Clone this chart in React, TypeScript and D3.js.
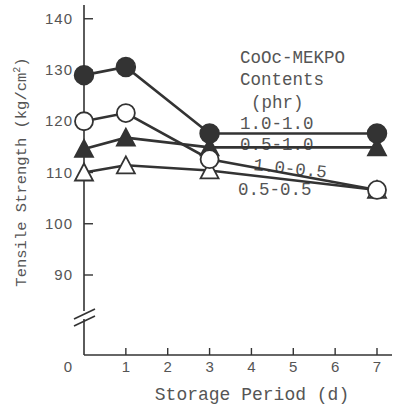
import React from "react";
import * as d3 from "d3";

const days = [0, 1, 3, 7];
const s10_10 = [129, 130.6, 117.6, 117.6]; // filled circle
const s10_05 = [120, 121.6, 112.6, 106.6]; // open circle
const s05_10 = [114.6, 116.8, 114.9, 114.9]; // filled triangle
const s05_05 = [110, 111.4, 110.4, 106.6]; // open triangle
const xTicks = [1, 2, 3, 4, 5, 6, 7];
const yTicks = [90, 100, 110, 120, 130, 140];
const legendTitle = ["CoOc-MEKPO", "Contents", "(phr)"];

const ink = "#333";
const txt = "#555";
const mono = "'Liberation Mono', 'DejaVu Sans Mono', monospace";
const sans = "'Liberation Sans', Arial, sans-serif";

export default function App() {
  const x = d3.scaleLinear().domain([0, 7]).range([84, 377]);
  const y = d3.scaleLinear().domain([90, 130]).range([275, 70]);
  const line = d3
    .line<number>()
    .x((_, i) => x(days[i]))
    .y((v) => y(v));
  const tri = (cx: number, cy: number) =>
    `M${cx},${cy - 9}L${cx + 9},${cy + 8}L${cx - 9},${cy + 8}Z`;

  const axisX = 84;
  const axisY = 355;
  const breakY = 316;

  return (
    <svg
      width={396}
      height={407}
      style={{ position: "absolute", left: 0, top: 0, background: "#fff" }}
    >
      {/* y axis with break */}
      <line x1={axisX} x2={axisX} y1={5} y2={breakY - 5} stroke={ink} strokeWidth={1.6} />
      <line x1={axisX} x2={axisX} y1={breakY + 3} y2={axisY} stroke={ink} strokeWidth={1.6} />
      <line x1={74} x2={95} y1={breakY + 3} y2={breakY - 7} stroke={ink} strokeWidth={1.6} />
      <line x1={74} x2={95} y1={breakY + 10} y2={breakY} stroke={ink} strokeWidth={1.6} />
      {/* x axis */}
      <line x1={axisX} x2={392} y1={axisY} y2={axisY} stroke={ink} strokeWidth={1.6} />
      {xTicks.map((t) => (
        <g key={"xt" + t}>
          <line x1={x(t)} x2={x(t)} y1={axisY} y2={axisY - 7} stroke={ink} strokeWidth={1.4} />
          <text x={x(t)} y={372} textAnchor="middle" fontFamily={sans} fontSize={15} fill={txt}>
            {t}
          </text>
        </g>
      ))}
      <text x={68} y={372} textAnchor="middle" fontFamily={sans} fontSize={15} fill={txt}>
        0
      </text>
      {yTicks.map((t) => (
        <g key={"yt" + t}>
          <line x1={axisX} x2={axisX + 9} y1={y(t)} y2={y(t)} stroke={ink} strokeWidth={1.4} />
          <text
            x={73}
            y={y(t) + 5}
            textAnchor="end"
            fontFamily={sans}
            fontSize={15}
            letterSpacing={1}
            fill={txt}
          >
            {t}
          </text>
        </g>
      ))}
      {/* axis titles */}
      <text x={252} y={400} textAnchor="middle" fontFamily={mono} fontSize={18} fill={txt}>
        Storage Period (d)
      </text>
      <text
        transform="translate(26,172) rotate(-90)"
        textAnchor="middle"
        fontFamily={mono}
        fontSize={15.5}
        fill={txt}
      >
        Tensile Strength (kg/cm
        <tspan fontSize={10} dy={-6}>2</tspan>
        <tspan dy={6}>)</tspan>
      </text>
      {/* legend text */}
      <text x={240} y={63} fontFamily={mono} fontSize={17.5} fill={txt}>
        {legendTitle[0]}
      </text>
      <text x={240} y={85} fontFamily={mono} fontSize={17.5} fill={txt}>
        {legendTitle[1]}
      </text>
      <text x={251} y={108} fontFamily={mono} fontSize={17.5} fill={txt}>
        {legendTitle[2]}
      </text>
      <text x={240} y={129} fontFamily={mono} fontSize={17.5} fill={txt}>
        1.0-1.0
      </text>
      <text x={240} y={150} fontFamily={mono} fontSize={17.5} fill={txt}>
        0.5-1.0
      </text>
      <text
        transform="translate(253,170) rotate(6)"
        fontFamily={mono}
        fontSize={17.5}
        fill={txt}
      >
        1.0-0.5
      </text>
      <text x={238} y={195} fontFamily={mono} fontSize={17.5} fill={txt}>
        0.5-0.5
      </text>
      {/* lines */}
      {[s05_05, s05_10, s10_05, s10_10].map((s, i) => (
        <path key={"l" + i} d={line(s) || ""} fill="none" stroke={ink} strokeWidth={2.6} />
      ))}
      {/* markers */}
      {s05_05.map((v, i) => (
        <path key={"ot" + i} d={tri(x(days[i]), y(v))} fill="#fff" stroke={ink} strokeWidth={1.8} />
      ))}
      {s05_10.map((v, i) => (
        <path key={"ft" + i} d={tri(x(days[i]), y(v))} fill={ink} stroke={ink} strokeWidth={1.8} />
      ))}
      {s10_05.map((v, i) => (
        <circle key={"oc" + i} cx={x(days[i])} cy={y(v)} r={9} fill="#fff" stroke={ink} strokeWidth={1.8} />
      ))}
      {s10_10.map((v, i) => (
        <circle key={"fc" + i} cx={x(days[i])} cy={y(v)} r={9.5} fill={ink} stroke={ink} strokeWidth={1.5} />
      ))}
    </svg>
  );
}
